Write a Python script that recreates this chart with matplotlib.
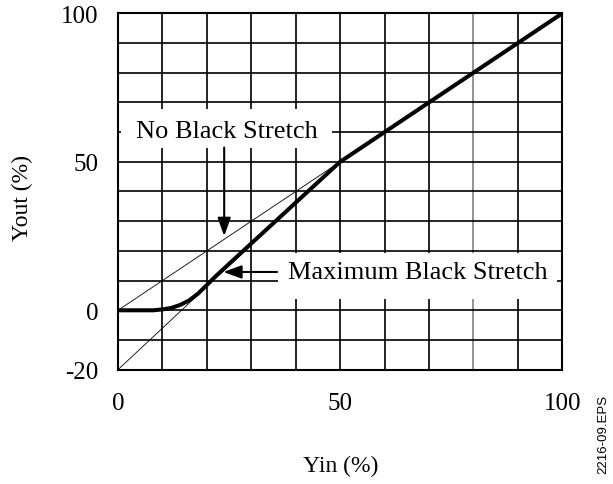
import matplotlib.pyplot as plt
from matplotlib.patches import Rectangle

plt.rcParams["font.family"] = ["Liberation Serif", "DejaVu Serif"]

# curve data (Yin %, Yout %)
no_stretch_x = [0, 50, 100]
no_stretch_y = [0, 50, 100]
slope_x = [0, 50]
slope_y = [-20, 50]
max_stretch_x = [0, 8, 10, 12, 14, 16, 18, 20, 22, 50, 100]
max_stretch_y = [0, 0, 0.3, 0.8, 1.8, 3.3, 5.6, 8.5, 11.5, 50, 100]

x_grid = list(range(0, 101, 10))
y_grid = list(range(-20, 101, 10))
x_ticks = [0, 50, 100]
y_ticks = [-20, 0, 50, 100]

fig = plt.figure(figsize=(6.13, 4.85), dpi=100)
ax = fig.add_axes([0.1925, 0.2357, 0.7248, 0.7348])
ax.set_xlim(0, 100)
ax.set_ylim(-20, 100)

for gx in x_grid:
    ax.axvline(gx, color="#808080" if gx == 80 else "black", lw=1.2, zorder=1)
for gy in y_grid:
    ax.axhline(gy, color="black", lw=1.2, zorder=1)

# white label boxes covering the grid
ax.add_patch(Rectangle((0.7, 54.8), 47.5, 12.9, facecolor="white",
                       edgecolor="none", zorder=2))
ax.add_patch(Rectangle((36, 3.7), 62.8, 15.7, facecolor="white",
                       edgecolor="none", zorder=2))

ax.plot(no_stretch_x[:2], no_stretch_y[:2], color="black", lw=0.6, zorder=3)
ax.plot(slope_x, slope_y, color="black", lw=0.6, zorder=3)
ax.plot(max_stretch_x, max_stretch_y, color="black", lw=2.9, zorder=4,
        solid_capstyle="butt", solid_joinstyle="round")

ax.text(24.6, 60.3, "No Black Stretch", fontsize=19, ha="center",
        va="center", zorder=5)
ax.text(67.4, 13.0, "Maximum Black Stretch", fontsize=19, ha="center",
        va="center", zorder=5)

arrow = dict(arrowstyle="-|>,head_length=1.1,head_width=0.4", color="black",
             lw=1.5, shrinkA=0, shrinkB=0)
ax.annotate("", xy=(23.9, 25), xytext=(23.9, 54.8), arrowprops=arrow,
            zorder=5)
ax.annotate("", xy=(23.7, 12.9), xytext=(35.8, 12.9), arrowprops=arrow,
            zorder=5)

ax.set_xticks(x_ticks)
ax.set_yticks(y_ticks)
ax.set_xticklabels([str(v) for v in x_ticks], fontsize=18)
ax.set_yticklabels([str(v) for v in y_ticks], fontsize=18)
ax.tick_params(axis="x", length=0, pad=16)
ax.tick_params(axis="y", length=0, pad=14)
for s in ax.spines.values():
    s.set_linewidth(1.5)

fig.text(22 / 613, 1 - 198 / 485, "Yout (%)", rotation=90, fontsize=17,
         ha="center", va="center")
fig.text(341 / 613, 1 - 466 / 485, "Yin (%)", fontsize=17,
         ha="center", va="center")
fig.text(603 / 613, 1 - 434 / 485, "2216-09.EPS", rotation=90, fontsize=9.5,
         family=["Liberation Sans", "DejaVu Sans"], ha="center", va="center")

fig.savefig("out.png", dpi=100)
